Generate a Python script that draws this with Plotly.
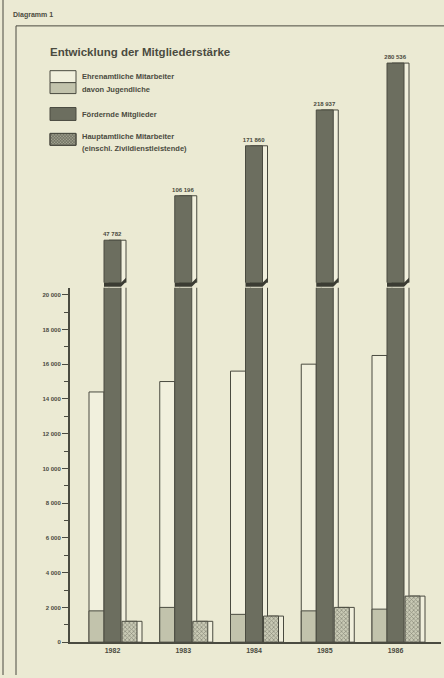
import plotly.graph_objects as go

# ---- data -------------------------------------------------------------
years = [1982, 1983, 1984, 1985, 1986]
ehrenamtliche = [14400, 15000, 15600, 16000, 16500]   # Ehrenamtliche Mitarbeiter
jugendliche = [1800, 2000, 1600, 1800, 1900]          # davon Jugendliche
foerdernde = [47782, 106196, 171860, 218937, 280536]  # Fördernde Mitglieder
hauptamtliche = [1200, 1200, 1500, 2000, 2650]        # Hauptamtliche Mitarbeiter
lower_ticks = list(range(0, 20001, 2000))
minor_ticks = list(range(1000, 20000, 2000))
year_labels = [str(y) for y in years]

# ---- page geometry ----------------------------------------------------
W, H = 444, 678


def px(x):
    return x / W


def py(y):
    return 1 - y / H


BG = "#ebead3"
INK = "#4a4b40"
LIGHT = "#f1f0dd"
MID = "#c2c3ac"
DARK = "#6c6e5f"
HATCH_BG = "#c9cab5"
HATCH_FG = "#56574b"
FONT = "Liberation Sans, Arial, sans-serif"

# one year step = 70.75 px on the page
STEP = 70.75


def u(p):
    return p / STEP


W_LIGHT, W_DARK, W_HATCH = u(15), u(17), u(15)
OFF_LIGHT, OFF_DARK, OFF_HATCH = -u(23.5), -u(8.5), u(9.5)
SIDE = u(5)

X_RANGE = [1982 + (70 - 112.5) / STEP, 1982 + (441 - 112.5) / STEP]
LOWER_TOP = 20400
UPPER_RANGE = [-8100, 311100]
UPPER_BOTTOM_PX, UPPER_TOP_PX = 284, 40


def fmt(v):
    return f"{v:,}".replace(",", " ")


fig = go.Figure()

outline = dict(color=INK, width=1)

# lower panel (0 - 20 000)
fig.add_trace(go.Bar(x=years, y=ehrenamtliche, offset=OFF_LIGHT, width=W_LIGHT,
                     marker=dict(color=LIGHT, line=outline), name="Ehrenamtliche Mitarbeiter"))
fig.add_trace(go.Bar(x=years, y=jugendliche, offset=OFF_LIGHT, width=W_LIGHT,
                     marker=dict(color=MID, line=outline), name="davon Jugendliche"))
fig.add_trace(go.Bar(x=years, y=foerdernde, offset=OFF_DARK + SIDE, width=W_DARK,
                     marker=dict(color=LIGHT, line=outline), hoverinfo="skip"))
fig.add_trace(go.Bar(x=years, y=foerdernde, offset=OFF_DARK, width=W_DARK,
                     marker=dict(color=DARK, line=outline), name="Fördernde Mitglieder"))
fig.add_trace(go.Bar(x=years, y=hauptamtliche, offset=OFF_HATCH + SIDE, width=W_HATCH,
                     marker=dict(color=LIGHT, line=outline), hoverinfo="skip"))
fig.add_trace(go.Bar(x=years, y=hauptamtliche, offset=OFF_HATCH, width=W_HATCH,
                     marker=dict(color=HATCH_BG, line=outline,
                                 pattern=dict(shape="x", size=3, solidity=0.45,
                                              fgcolor=HATCH_FG, bgcolor=HATCH_BG)),
                     name="Hauptamtliche Mitarbeiter"))

# upper panel (broken scale for the Fördernde Mitglieder)
upper_len = [v - UPPER_RANGE[0] for v in foerdernde]
fig.add_trace(go.Bar(x=years, y=upper_len, base=UPPER_RANGE[0], offset=OFF_DARK + SIDE,
                     width=W_DARK, marker=dict(color=LIGHT, line=outline),
                     xaxis="x2", yaxis="y2", hoverinfo="skip"))
fig.add_trace(go.Bar(x=years, y=upper_len, base=UPPER_RANGE[0], offset=OFF_DARK,
                     width=W_DARK, marker=dict(color=DARK, line=outline),
                     text=[f"<b>{fmt(v)}</b>" for v in foerdernde], textposition="outside",
                     textfont=dict(size=6, color=INK, family=FONT),
                     constraintext="none", cliponaxis=False,
                     xaxis="x2", yaxis="y2", name="Fördernde Mitglieder"))

# ---- decoration: frame, headings, legend -----------------------------
shapes = [
    dict(type="line", xref="paper", yref="paper", x0=px(3), x1=px(3), y0=0, y1=1,
         line=dict(color=INK, width=1)),
    dict(type="line", xref="paper", yref="paper", x0=px(16), x1=px(16), y0=0, y1=py(26),
         line=dict(color=INK, width=1)),
    dict(type="line", xref="paper", yref="paper", x0=px(16), x1=1, y0=py(26), y1=py(26),
         line=dict(color=INK, width=1)),
]

# dark underside of each broken column, just below the upper panel
for yr in years:
    xl = yr + OFF_DARK
    xr = xl + W_DARK + SIDE
    shapes.append(dict(
        type="path", xref="x2", yref="paper",
        path=(f"M{xl},{py(UPPER_BOTTOM_PX)} L{xl + W_DARK},{py(UPPER_BOTTOM_PX)} "
              f"L{xr},{py(UPPER_BOTTOM_PX - 5)} L{xr},{py(UPPER_BOTTOM_PX - 1)} "
              f"L{xl + W_DARK},{py(UPPER_BOTTOM_PX + 4)} L{xl},{py(UPPER_BOTTOM_PX + 4)} Z"),
        fillcolor="#3b3c33", line=dict(width=0)))


def box(x0, y0, x1, y1, fill):
    return dict(type="rect", xref="paper", yref="paper", x0=px(x0), x1=px(x1),
                y0=py(y1), y1=py(y0), fillcolor=fill, line=dict(color=INK, width=1))


shapes += [box(50, 71, 76, 83, LIGHT), box(50, 83, 76, 94, MID)]
shapes += [box(50, 108, 76, 121, DARK), box(50, 134, 76, 146, "#a3a491")]

# crosshatch inside the last legend swatch
hx0, hx1, hy0, hy1 = 50, 76, 134, 146
segs = []
k = -(hy1 - hy0)
while k <= (hx1 - hx0):
    xa, ya = hx0 + k, hy1
    xb, yb = hx0 + k + (hy1 - hy0), hy0
    if xa < hx0:
        ya -= hx0 - xa
        xa = hx0
    if xb > hx1:
        yb += xb - hx1
        xb = hx1
    if xa < xb:
        segs.append(f"M{px(xa)},{py(ya)} L{px(xb)},{py(yb)}")
    xa, ya = hx0 + k, hy0
    xb, yb = hx0 + k + (hy1 - hy0), hy1
    if xa < hx0:
        ya += hx0 - xa
        xa = hx0
    if xb > hx1:
        yb -= xb - hx1
        xb = hx1
    if xa < xb:
        segs.append(f"M{px(xa)},{py(ya)} L{px(xb)},{py(yb)}")
    k += 3
shapes.append(dict(type="path", xref="paper", yref="paper", path=" ".join(segs),
                   line=dict(color=HATCH_FG, width=0.6)))
shapes.append(box(50, 134, 76, 146, "rgba(0,0,0,0)"))


def label(x, y, text, size, bold=False, anchor="left"):
    return dict(xref="paper", yref="paper", x=px(x), y=py(y), text=f"<b>{text}</b>" if bold else text,
                showarrow=False, xanchor=anchor, yanchor="middle",
                font=dict(family=FONT, size=size, color=INK))


annotations = [
    label(11, 15, "Diagramm 1", 7, bold=True),
    label(48, 52, "Entwicklung der Mitgliederstärke", 11.5, bold=True),
    label(80, 77, "Ehrenamtliche Mitarbeiter", 7.5, bold=True),
    label(80, 90, "davon Jugendliche", 7.5, bold=True),
    label(80, 115, "Fördernde Mitglieder", 7.5, bold=True),
    label(80, 137, "Hauptamtliche Mitarbeiter", 7.5, bold=True),
    label(80, 149, "(einschl. Zivildienstleistende)", 7.5, bold=True),
]

fig.update_layout(
    width=W, height=H,
    margin=dict(l=0, r=0, t=0, b=0),
    paper_bgcolor=BG, plot_bgcolor="rgba(0,0,0,0)",
    barmode="overlay", showlegend=False,
    font=dict(family=FONT, color=INK),
    shapes=shapes, annotations=annotations,
    xaxis=dict(domain=[px(70), px(441)], range=X_RANGE, anchor="y",
               tickvals=years, ticktext=[f"<b>{t}</b>" for t in year_labels], ticks="",
               showline=True, linecolor=INK, linewidth=2, showgrid=False, zeroline=False,
               tickfont=dict(size=7, family=FONT, color=INK)),
    yaxis=dict(domain=[py(645), py(289)], range=[0, LOWER_TOP], anchor="x",
               tickvals=lower_ticks, ticktext=[f"<b>{fmt(v)}</b>" for v in lower_ticks],
               ticks="outside", ticklen=6, tickwidth=1.2, tickcolor=INK,
               minor=dict(tickvals=minor_ticks, ticks="outside", ticklen=4,
                          tickwidth=1, tickcolor=INK),
               showline=True, linecolor=INK, linewidth=2, showgrid=False, zeroline=False,
               tickfont=dict(size=6, family=FONT, color=INK)),
    xaxis2=dict(domain=[px(70), px(441)], range=X_RANGE, anchor="y2", visible=False),
    yaxis2=dict(domain=[py(UPPER_BOTTOM_PX), py(UPPER_TOP_PX)], range=UPPER_RANGE,
                anchor="x2", visible=False),
)

fig.write_html("out.html")
